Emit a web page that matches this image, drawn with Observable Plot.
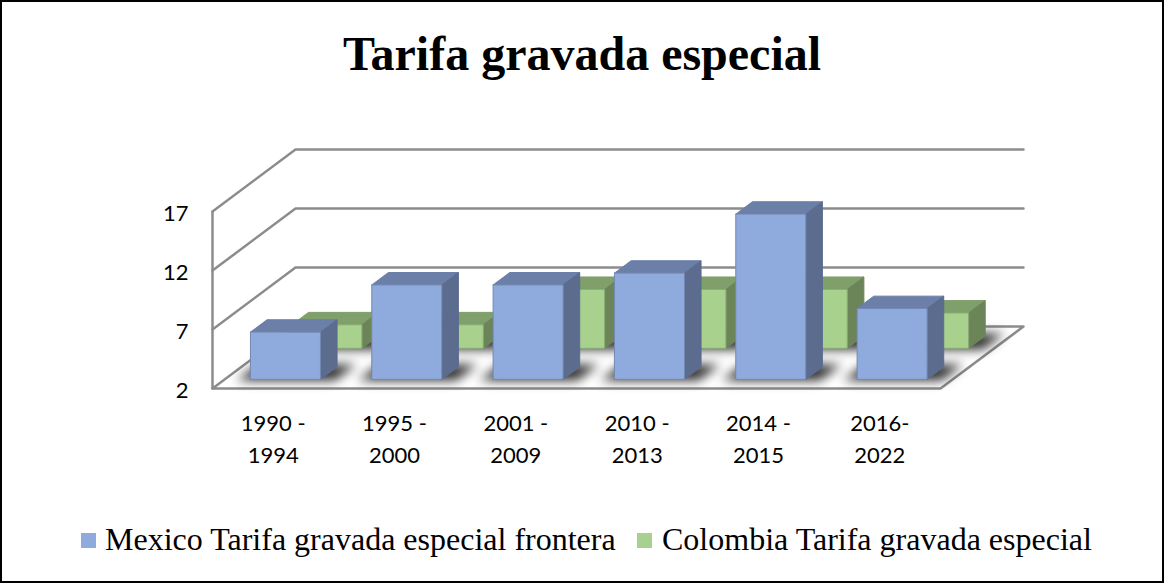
<!DOCTYPE html>
<html>
<head>
<meta charset="utf-8">
<script src="https://cdn.jsdelivr.net/npm/d3@7"></script>
<script src="https://cdn.jsdelivr.net/npm/@observablehq/plot@0.6"></script>
<style>
html,body{margin:0;padding:0;background:#fff;overflow:hidden}
#frame{position:relative;box-sizing:border-box;width:1164px;height:583px;border:2px solid #000;overflow:hidden}
#title{height:100px;box-sizing:border-box;padding-top:22px;text-align:center;font:bold 48px/60px "Liberation Serif",serif;color:#000;white-space:nowrap}
#chart svg{display:block}
.lg{position:absolute;top:519px;font:32px/36px "Liberation Serif",serif;color:#000;white-space:nowrap}
.sw{position:absolute;width:15px;height:15px;top:531px}
</style>
</head>
<body>
<div id="frame">
  <div id="title"></div>
  <div id="chart"></div>
</div>
<script>
const chartTitle = "Tarifa gravada especial";
const categories = ["1990 -\n1994", "1995 -\n2000", "2001 -\n2009", "2010 -\n2013", "2014 -\n2015", "2016-\n2022"];
const mexico = [6, 10, 10, 11, 16, 8];
const colombia = [4, 4, 7, 7, 7, 5];
const seriesNames = ["Mexico Tarifa gravada especial frontera", "Colombia Tarifa gravada especial"];
const yTicks = [2, 7, 12, 17];
const mexicoColors = {front: "#8faadc", top: "#6b7fa8", side: "#5b6c8f"};
const colombiaColors = {front: "#a9d18e", top: "#7f9f6b", side: "#6b8559"};

const base = 2, n = categories.length;
// Oblique projection: depth (0..1) becomes a shift in data units
const depthX = 0.684, depthY = 5.25;
const barWidth = 0.577;
const pad = (1 - barWidth) / 2;
const pt = (x, v, z, id) => ({x: x + z * depthX, y: v + z * depthY, id});
const poly = (id, corners) => [...corners, corners[0]].map(([x, v, z]) => pt(x, v, z, id));

function faces(values, z0, z1) {
  const front = [], top = [], side = [], shadow = [];
  values.forEach((v, i) => {
    const a = i + pad, b = i + 1 - pad;
    front.push(...poly(i, [[a, base, z0], [b, base, z0], [b, v, z0], [a, v, z0]]));
    top.push(...poly(i, [[a, v, z0], [b, v, z0], [b, v, z1], [a, v, z1]]));
    side.push(...poly(i, [[b, base, z0], [b, base, z1], [b, v, z1], [b, v, z0]]));
    shadow.push(...poly(i, [[a - 0.1, base, z0 - 0.02], [b + 0.13, base, z0 - 0.02], [b + 0.13, base, z1 + 0.04], [a - 0.1, base, z1 + 0.04]]));
  });
  return {front, top, side, shadow};
}

const barMarks = (f, c) => [
  Plot.line(f.shadow, {x: "x", y: "y", z: "id", fill: "#222", stroke: "none", imageFilter: "blur(5.5px)", fillOpacity: 0.95}),
  Plot.line(f.top, {x: "x", y: "y", z: "id", fill: c.top, stroke: c.top, strokeWidth: 1}),
  Plot.line(f.side, {x: "x", y: "y", z: "id", fill: c.side, stroke: c.side, strokeWidth: 1}),
  Plot.line(f.front, {x: "x", y: "y", z: "id", fill: c.front, stroke: d3.color(c.front).darker(0.6).formatHex(), strokeWidth: 1})
];

const floor = poly("floor", [[0, base, 0], [n, base, 0], [n, base, 1], [0, base, 1]]);
const grid = yTicks.slice(1).flatMap(t => [pt(0, t, 0, t), pt(0, t, 1, t), pt(n, t, 1, t)]);
const wall = [pt(0, base, 0, "w"), pt(0, yTicks[yTicks.length - 1], 0, "w")];
const gridColor = "#8c8c8c";

document.getElementById("title").textContent = chartTitle;

const plot = Plot.plot({
  width: 1160, height: 370,
  marginLeft: 210, marginRight: 222, marginTop: 109, marginBottom: 84,
  style: {fontFamily: "Lato", color: "#000", background: "transparent", overflow: "visible"},
  x: {domain: [0, n], axis: null},
  y: {domain: [base, yTicks[yTicks.length - 1]], axis: null},
  marks: [
    Plot.line(grid, {x: "x", y: "y", z: "id", stroke: gridColor, strokeWidth: 2.5}),
    Plot.line(wall, {x: "x", y: "y", z: "id", stroke: gridColor, strokeWidth: 2.5}),
    Plot.line(floor, {x: "x", y: "y", z: "id", fill: "#fff", stroke: gridColor, strokeWidth: 2.5}),
    ...barMarks(faces(colombia, 0.648, 0.848), colombiaColors),
    ...barMarks(faces(mexico, 0.148, 0.348), mexicoColors),
    Plot.axisY({ticks: yTicks, tickSize: 0, tickPadding: 24, fontSize: 22, dy: 2, label: null, tickFormat: d => String(d)}),
    Plot.axisX({ticks: categories.map((c, i) => i + 0.5), tickFormat: d => categories[d - 0.5], tickSize: 0, tickPadding: 20, fontSize: 22, lineHeight: 1.45, label: null})
  ]
});
document.getElementById("chart").appendChild(plot);

// Legend
const frame = document.getElementById("frame");
[[79, 103, mexicoColors.front, seriesNames[0]], [635, 660, colombiaColors.front, seriesNames[1]]].forEach(([sx, tx, col, name]) => {
  const s = document.createElement("div"); s.className = "sw"; s.style.left = sx + "px"; s.style.background = col; frame.appendChild(s);
  const t = document.createElement("div"); t.className = "lg"; t.style.left = tx + "px"; t.textContent = name; frame.appendChild(t);
});
</script>
</body>
</html>
